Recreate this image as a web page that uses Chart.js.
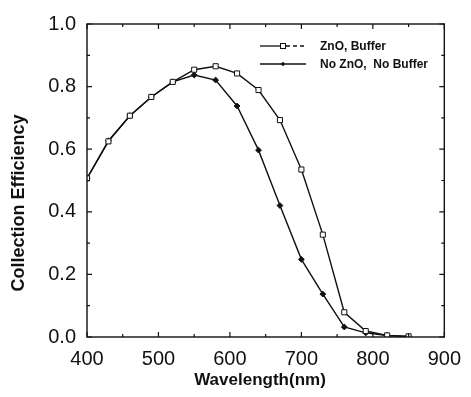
<!DOCTYPE html>
<html>
<head>
<meta charset="utf-8">
<script src="https://cdn.jsdelivr.net/npm/chart.js@4.4.1/dist/chart.umd.min.js"></script>
<style>
  html, body { margin: 0; padding: 0; background: #fff; }
  canvas { display: block; }
</style>
</head>
<body>
<canvas id="c" width="471" height="397"></canvas>
<script>
// ---- data ----
const wavelengths = [400, 430, 460, 490, 520, 550, 580, 610, 640, 670, 700, 730, 760, 790, 820, 850];
const znoBuffer   = [0.507, 0.625, 0.707, 0.767, 0.815, 0.854, 0.865, 0.842, 0.789, 0.693, 0.535, 0.327, 0.079, 0.019, 0.005, 0.002];
const noZnoNoBuf  = [0.507, 0.627, 0.707, 0.767, 0.815, 0.837, 0.821, 0.738, 0.597, 0.420, 0.248, 0.137, 0.032, 0.013, 0.005, 0.002];
const seriesLabels = ['ZnO, Buffer', 'No ZnO,  No Buffer'];
const xTitle = 'Wavelength(nm)';
const yTitle = 'Collection Efficiency';
const xRange = [400, 900];
const yRange = [0, 1.0];

const FONT = '"Liberation Sans", Arial, Helvetica, sans-serif';

function toPoints(xs, ys) { return xs.map((x, i) => ({ x: x, y: ys[i] })); }

// inward ticks on all four sides, box frame, axis titles, inner legend
const framePlugin = {
  id: 'frame',
  afterDatasetsDraw(chart) {
    const ctx = chart.ctx;
    const a = chart.chartArea;
    const xs = chart.scales.x, ys = chart.scales.y;
    ctx.save();
    ctx.strokeStyle = '#111';
    ctx.lineWidth = 1.4;
    ctx.strokeRect(a.left, a.top, a.right - a.left, a.bottom - a.top);

    ctx.lineWidth = 1.2;
    const xt = xs.ticks.map(t => t.value);
    const yt = ys.ticks.map(t => t.value);
    const xMinor = [], yMinor = [];
    for (let i = 0; i < xt.length - 1; i++) xMinor.push((xt[i] + xt[i + 1]) / 2);
    for (let i = 0; i < yt.length - 1; i++) yMinor.push((yt[i] + yt[i + 1]) / 2);
    const major = 5, minor = 3;
    ctx.beginPath();
    xt.forEach(v => { const p = xs.getPixelForValue(v);
      ctx.moveTo(p, a.bottom); ctx.lineTo(p, a.bottom - major);
      ctx.moveTo(p, a.top); ctx.lineTo(p, a.top + major); });
    xMinor.forEach(v => { const p = xs.getPixelForValue(v);
      ctx.moveTo(p, a.bottom); ctx.lineTo(p, a.bottom - minor);
      ctx.moveTo(p, a.top); ctx.lineTo(p, a.top + minor); });
    yt.forEach(v => { const p = ys.getPixelForValue(v);
      ctx.moveTo(a.left, p); ctx.lineTo(a.left + major, p);
      ctx.moveTo(a.right, p); ctx.lineTo(a.right - major, p); });
    yMinor.forEach(v => { const p = ys.getPixelForValue(v);
      ctx.moveTo(a.left, p); ctx.lineTo(a.left + minor, p);
      ctx.moveTo(a.right, p); ctx.lineTo(a.right - minor, p); });
    ctx.stroke();

    // axis titles
    ctx.fillStyle = '#111';
    ctx.textAlign = 'center';
    ctx.textBaseline = 'middle';
    ctx.font = 'bold 17px ' + FONT;
    ctx.fillText(xTitle, 260, 380);
    ctx.save();
    ctx.translate(19, 203);
    ctx.rotate(-Math.PI / 2);
    ctx.font = 'bold 18px ' + FONT;
    ctx.fillText(yTitle, 0, 0);
    ctx.restore();

    // legend
    const rows = [46, 64];
    ctx.font = 'bold 12px ' + FONT;
    ctx.textAlign = 'left';
    chart.data.datasets.forEach((ds, i) => {
      const y = rows[i];
      ctx.strokeStyle = '#111';
      ctx.lineWidth = 1.3;
      ctx.beginPath();
      if (i === 0) {
        ctx.moveTo(260, y); ctx.lineTo(283, y); ctx.stroke();
        ctx.setLineDash([4, 3]);
        ctx.beginPath(); ctx.moveTo(286, y); ctx.lineTo(306, y); ctx.stroke();
        ctx.setLineDash([]);
        ctx.fillStyle = '#fff';
        ctx.lineWidth = 1;
        ctx.fillRect(280.5, y - 2.5, 5, 5);
        ctx.strokeRect(280.5, y - 2.5, 5, 5);
      } else {
        ctx.moveTo(260, y); ctx.lineTo(306, y); ctx.stroke();
        ctx.fillStyle = '#111';
        ctx.beginPath();
        ctx.moveTo(283, y - 2.2); ctx.lineTo(285.2, y); ctx.lineTo(283, y + 2.2); ctx.lineTo(280.8, y);
        ctx.closePath(); ctx.fill();
      }
      ctx.fillStyle = '#111';
      ctx.fillText(ds.label, 320, y + 0.5);
    });
    ctx.restore();
  }
};

new Chart(document.getElementById('c'), {
  type: 'scatter',
  data: {
    datasets: [
      {
        label: seriesLabels[0],
        data: toPoints(wavelengths, znoBuffer),
        showLine: true,
        borderColor: '#111',
        borderWidth: 1.4,
        pointStyle: 'rect',
        pointRadius: 3.6,
        pointBackgroundColor: '#fff',
        pointBorderColor: '#111',
        pointBorderWidth: 1,
        tension: 0
      },
      {
        label: seriesLabels[1],
        data: toPoints(wavelengths, noZnoNoBuf),
        showLine: true,
        borderColor: '#111',
        borderWidth: 1.4,
        pointStyle: 'rectRot',
        pointRadius: 2.9,
        pointBackgroundColor: '#111',
        pointBorderColor: '#111',
        pointBorderWidth: 1,
        tension: 0
      }
    ]
  },
  options: {
    responsive: false,
    animation: false,
    events: [],
    layout: { padding: { left: 0, right: 24, top: 24, bottom: 0 } },
    plugins: { legend: { display: false }, tooltip: { enabled: false } },
    scales: {
      x: {
        type: 'linear',
        min: xRange[0], max: xRange[1],
        grid: { display: false, drawTicks: false },
        border: { display: false },
        ticks: { stepSize: 100, color: '#111', font: { family: FONT, size: 20 }, padding: 10, maxRotation: 0 },
        afterFit(s) { s.height = 60; }
      },
      y: {
        type: 'linear',
        min: yRange[0], max: yRange[1],
        grid: { display: false, drawTicks: false },
        border: { display: false },
        ticks: { stepSize: 0.2, color: '#111', font: { family: FONT, size: 20 }, padding: 11,
                 callback: v => Number(v).toFixed(1) },
        afterFit(s) { s.width = 87; }
      }
    }
  },
  plugins: [framePlugin]
});
</script>
</body>
</html>
